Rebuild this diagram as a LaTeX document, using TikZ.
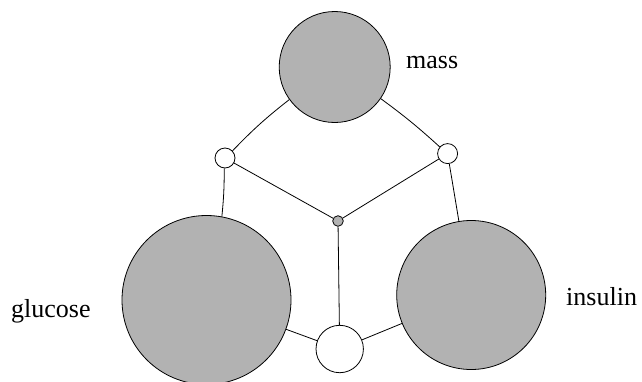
\documentclass[tikz,border=0pt]{standalone}
\usepackage{fontspec}
\setmainfont{Liberation Serif}
\begin{document}
\begin{tikzpicture}[x=1pt,y=-1pt,
  var/.style={circle,draw=black,line width=0.8pt,fill=black!30,inner sep=0pt},
  fac/.style={circle,draw=black,line width=0.8pt,fill=white,inner sep=0pt},
  lab/.style={font=\fontsize{26}{30}\selectfont,anchor=base west,inner sep=0pt},
  edge/.style={draw=black,line width=0.8pt}]
\useasboundingbox (0,0) rectangle (642,381);
\node[var,minimum size=111pt] (mass) at (334.7,67) {};
\node[var,minimum size=169pt] (glucose) at (206.5,300) {};
\node[var,minimum size=149pt] (insulin) at (471.2,295) {};
\node[fac,minimum size=20pt] (L) at (225,158) {};
\node[fac,minimum size=20pt] (R) at (447.6,153.6) {};
\node[var,minimum size=10.6pt] (C) at (338,221) {};
\node[fac,minimum size=47.4pt] (B) at (339.7,349) {};
\node[lab] (tmass) at (406,68) {mass};
\node[lab] (tglucose) at (11,317) {glucose};
\node[lab] (tinsulin) at (566,305) {insulin};
\draw[edge] (L) to[bend left=4] (mass);
\draw[edge] (R) to[bend right=3] (mass);
\draw[edge] (L) -- (C);
\draw[edge] (R) -- (C);
\draw[edge] (L) to[bend left=3] (glucose);
\draw[edge] (R) -- (insulin);
\draw[edge] (C) -- (B);
\draw[edge] (glucose) -- (B);
\draw[edge] (insulin) -- (B);
\end{tikzpicture}
\end{document}
